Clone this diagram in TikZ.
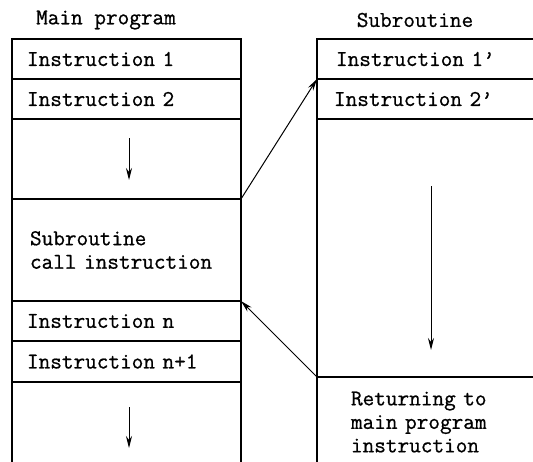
\documentclass[tikz,border=0pt]{standalone}
\usepackage{fontspec}
\setmonofont[FakeBold=0.8]{Latin Modern Mono}
\usetikzlibrary{arrows.meta}
\begin{document}
\begin{tikzpicture}[x=1pt,y=-1pt]
\tikzset{
 cell/.style={draw, line width=1.1pt, rectangle, anchor=north west, outer sep=0pt, inner ysep=0pt, align=left, font=\ttfamily\fontsize{22.6}{23.5}\selectfont},
 mcell/.style={cell, inner xsep=15pt, text width=199pt},
 scell/.style={cell, inner xsep=19pt, text width=190pt},
 tip/.style={-{Stealth[length=12pt,width=6pt]}, line width=1pt},
 title/.style={font=\ttfamily\fontsize{22.6}{23}\selectfont}
}
\useasboundingbox (0,0) rectangle (533,461);
\clip (0,0) rectangle (533,461);
\fill[white] (0,0) rectangle (533,461);
\node[title] (tm) at (106,20) {Main program};
\node[title] (ts) at (415,20) {Subroutine};
% main program
\node[mcell, minimum height=40pt] (m1) at (12,39) {Instruction 1};
\node[mcell, minimum height=40pt] (m2) at (m1.south west) {Instruction 2};
\node[mcell, minimum height=80pt] (m3) at (m2.south west) {};
\node[mcell, minimum height=102pt, inner xsep=18pt, text width=193pt] (m4) at (m3.south west) {Subroutine\\call instruction};
\node[mcell, minimum height=40pt] (m5) at (m4.south west) {Instruction n};
\node[mcell, minimum height=41pt] (m6) at (m5.south west) {Instruction n+1};
\node[mcell, minimum height=90pt] (m7) at (m6.south west) {};
% subroutine
\node[scell, minimum height=40pt] (s1) at (317,39) {Instruction 1’};
\node[scell, minimum height=40pt, inner xsep=17pt, text width=194pt] (s2) at (s1.south west) {Instruction 2’};
\node[scell, minimum height=258pt] (s3) at (s2.south west) {};
\node[scell, minimum height=90pt, inner xsep=34pt, text width=160pt] (s4) at (s3.south west) {Returning to\\main program\\instruction};
% flow arrows
\coordinate (a1s) at (129,138); \coordinate (a1e) at (129,180);
\coordinate (a2s) at (129,407); \coordinate (a2e) at (129,448);
\coordinate (a3s) at (431,186); \coordinate (a3e) at (431,350);
\draw[tip] (a1s) -- (a1e);
\draw[tip] (a2s) -- (a2e);
\draw[tip] (a3s) -- (a3e);
\draw[tip] (m4.north east) -- (s2.north west);
\draw[tip] (s4.north west) -- (m5.north east);
\end{tikzpicture}
\end{document}
